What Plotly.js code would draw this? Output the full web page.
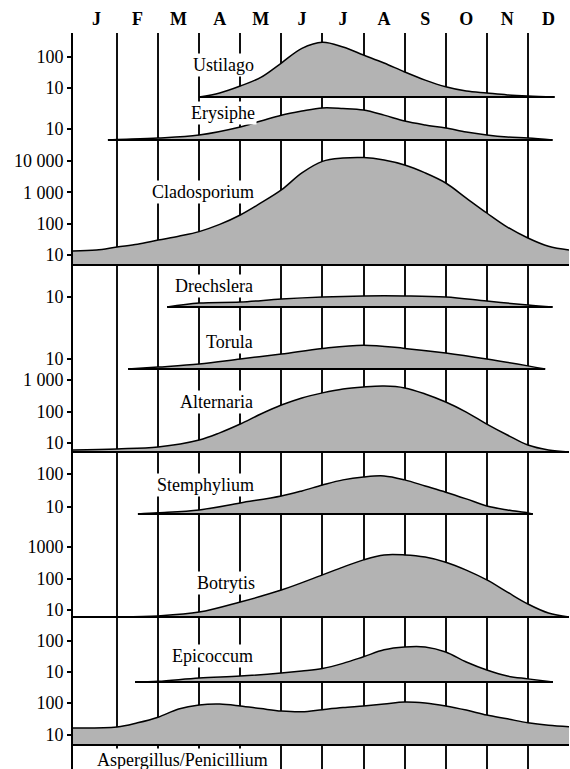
<!DOCTYPE html>
<html><head><meta charset="utf-8">
<script src="https://cdn.plot.ly/plotly-3.0.1.min.js"></script>
<style>html,body{margin:0;padding:0;background:#fff}</style>
</head><body><div id="chart" style="width:570px;height:769px"></div>
<script>
// ---- Data ----
const months = ['J','F','M','A','M','J','J','A','S','O','N','D'];
const monthCenters = [0.5,1.5,2.5,3.5,4.5,5.5,6.5,7.5,8.5,9.5,10.5,11.5];
const monthBounds = [1,2,3,4,5,6,7,8,9,10,11,12];

const ustilagoX = [3,3.5,4,4.5,5,5.5,6,6.5,7,7.5,8,8.5,9,9.5,10,10.5,11,11.65];
const ustilagoY = [5.13,6.9,11.6,22,64,190,300,210,116,64,33,18,11,8,6.9,6,5.5,5.13];

const erysipheX = [0.78,1,2,3,4,4.5,5,5.5,6,6.5,7,7.5,8,8.5,9,9.5,10,10.5,11,11.6];
const erysipheY = [4.42,4.6,5.1,6.4,11.6,18,28,38,48,46,41,28,18,13.5,10.8,8,6.4,5.5,5.1,4.42];

const cladosporiumX = [-0.07,0.5,1,1.5,2,2.5,3,3.5,4,4.5,5,5.5,6,6.5,7,7.5,8,8.5,9,9.5,10,10.5,11,11.5,12];
const cladosporiumY = [13.4,14.4,18,22,30,40,56,95,190,460,1200,4200,9800,12500,13000,10800,7500,4200,2000,660,220,78,35,19,14.4];

const drechsleraX = [2.22,3,4,5,6,7,8,9,10,11,11.6];
const drechsleraY = [4.76,6.4,6.9,8.6,10,10.8,10.8,10,7.4,5.5,4.76];

const torulaX = [1.27,2,3,4,5,6,7,8,9,10,11,11.42];
const torulaY = [4.76,5.5,6.9,10,14.5,22,28,22,15.6,10,6,4.76];

const alternariaX = [-0.07,1,2,3,3.5,4,4.5,5,5.5,6,6.5,7,7.5,8,8.5,9,9.5,10,10.5,11,11.5,12];
const alternariaY = [6,6.5,7.5,12.5,21,40,83,160,270,390,520,600,640,560,360,200,96,40,18,8.6,6,5.18];

const stemphyliumX = [1.51,2,3,4,5,5.5,6,6.5,7,7.5,8,8.5,9,9.5,10,10.5,11,11.12];
const stemphyliumY = [6.1,6.6,8.1,13.2,21.5,30.5,46,66,81,87,66,43,28,17.5,10.7,8.1,6.6,6.1];

const botrytisX = [-0.07,1,2,3,4,5,6,6.5,7,7.5,8,8.5,9,9.5,10,10.5,11,11.5,12];
const botrytisY = [6,6,6.5,8.6,18,43,130,230,390,560,560,480,330,185,90,37,15.5,8,6];

const epicoccumX = [1.44,2,3,4,5,5.5,6,6.5,7,7.5,8,8.5,9,9.5,10,10.5,11,11.61];
const epicoccumY = [4.76,5,6.4,7.4,9.3,10.8,13,19,31,52,64,64,44,21,11.6,7.4,6,4.76];

const aspergillusX = [-0.07,1,1.5,2,2.5,3,3.5,4,4.5,5,5.5,6,6.5,7,7.5,8,8.5,9,9.5,10,10.5,11,11.5,12];
const aspergillusY = [16.5,17.8,24,36,65,87,93,81,67,56,53,62,72,81,93,108,100,81,60,42,32,24,20,18];

const names = ['Ustilago','Erysiphe','Cladosporium','Drechslera','Torula','Alternaria','Stemphylium','Botrytis','Epicoccum','Aspergillus/Penicillium'];
const seriesX = [ustilagoX,erysipheX,cladosporiumX,drechsleraX,torulaX,alternariaX,stemphyliumX,botrytisX,epicoccumX,aspergillusX];
const seriesY = [ustilagoY,erysipheY,cladosporiumY,drechsleraY,torulaY,alternariaY,stemphyliumY,botrytisY,epicoccumY,aspergillusY];
const baselines = [5.13,4.42,4.8,4.76,4.76,5.18,6.1,6.0,4.76,4.87];
const tickVals = [[10,100],[10],[10,100,1000,10000],[10],[10],[10,100,1000],[10,100],[10,100,1000],[10,100],[10,100]];
const tickText = [['10','100'],['10'],['10','100','1 000','10 000'],['10'],['10'],['10','100','1 000'],['10','100'],['10','100','1000'],['10','100'],['10','100']];

// ---- Layout geometry (pixels) ----
const W = 570, H = 769, ML = 73, MR = 1, MT = 33, MB = 0;
const plotH = H - MT - MB, plotW = W - ML - MR;
const py = p => (H - MB - p) / plotH;
const px = p => (p - ML) / plotW;
// [baseline px, top px, px per decade]
const panelGeom = [[97,33,31],[140,97,31],[265,140,31.3],[307,265,31],[369,307,31],[452,369,31.5],[514,452,33],[617,514,31.5],[682,617,31],[745,682,32]];
// label right edge px, center y px
const labelPos = [[256,65],[257,113],[256,192],[255,286],[255,342],[255,402],[256,485],[257,583],[255,656],[270,760]];

const FILL = '#b3b3b3';
const serif = 'Liberation Serif, Times New Roman, serif';

const traces = [{x:[], y:[], xaxis:'x', yaxis:'y', hoverinfo:'skip', showlegend:false}];
const layout = {
  width: W, height: H,
  margin: {l: ML, r: MR, t: MT, b: MB},
  paper_bgcolor: '#fff', plot_bgcolor: 'rgba(0,0,0,0)',
  showlegend: false, hovermode: false,
  font: {family: serif, size: 18, color: '#000'},
  xaxis: {
    domain: [0,1], range: [-0.07, 12], side: 'top', anchor: 'y',
    tickmode: 'array', tickvals: monthCenters, ticktext: months,
    ticks: '', showgrid: false, zeroline: false, showline: false,
    ticklabelstandoff: 3,
    tickfont: {family: serif, size: 18, weight: 'bold', color: '#000'},
    minor: {tickmode: 'array', tickvals: monthBounds, showgrid: true, gridcolor: '#111', gridwidth: 2, ticks: ''}
  },
  yaxis: {domain: [0,1], range: [0,1], showline: true, linewidth: 2, linecolor: '#000',
    showticklabels: false, ticks: '', showgrid: false, zeroline: false},
  xaxis2: {domain: [0,1], range: [-0.07, 12], anchor: 'y2', visible: false, showgrid: false, zeroline: false},
  annotations: []
};

for (let i = 0; i < names.length; i++) {
  const ya = 'y' + (i + 2);
  const [yb, yt, d] = panelGeom[i];
  const base = baselines[i];
  const lb = Math.log10(base);
  layout['yaxis' + (i + 2)] = {
    type: 'log', anchor: 'x2',
    domain: [py(yb + 2), py(yt)],
    range: [lb - 2 / d, lb + (yb - yt) / d],
    tickmode: 'array', tickvals: tickVals[i], ticktext: tickText[i],
    ticks: 'outside', ticklen: 4, tickwidth: 2, tickcolor: '#000',
    showline: true, linewidth: 2, linecolor: '#000',
    showgrid: false, zeroline: false,
    tickfont: {family: serif, size: 18, color: '#000'}
  };
  const xs = seriesX[i];
  traces.push({
    x: [xs[0], xs[xs.length - 1]], y: [base, base],
    xaxis: 'x2', yaxis: ya, mode: 'lines',
    line: {color: '#000', width: 2.2}, hoverinfo: 'skip'
  });
  traces.push({
    x: xs, y: seriesY[i], xaxis: 'x2', yaxis: ya, mode: 'lines',
    fill: 'tonexty', fillcolor: FILL,
    line: {color: '#000', width: 1.5, shape: 'spline', smoothing: 1}, hoverinfo: 'skip'
  });
  layout.annotations.push({
    text: names[i], xref: 'paper', yref: 'paper',
    x: px(labelPos[i][0]), y: py(labelPos[i][1]),
    xanchor: 'right', yanchor: 'middle', showarrow: false,
    bgcolor: '#fff', borderpad: 1,
    font: {family: serif, size: 18, color: '#000'}
  });
}

Plotly.newPlot('chart', traces, layout, {staticPlot: true, displayModeBar: false});
</script>
</body></html>
